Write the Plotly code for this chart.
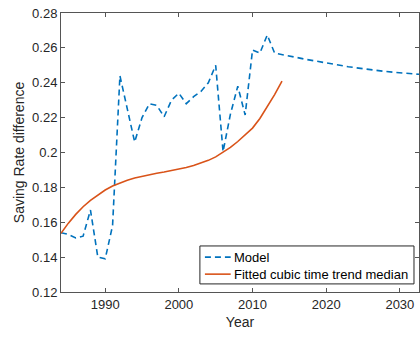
import plotly.graph_objects as go

# Model saving-rate difference: historical years plus projection
model_years = list(range(1984, 2034))
model_values = [
    0.154, 0.153, 0.151, 0.152, 0.167, 0.140, 0.139, 0.158, 0.244, 0.225,
    0.206, 0.220, 0.228, 0.227, 0.2205, 0.230, 0.234, 0.228, 0.232, 0.235,
    0.240, 0.250, 0.2005, 0.222, 0.238, 0.2215, 0.2588, 0.257, 0.2674, 0.257,
    0.2563, 0.2554, 0.2545, 0.2536, 0.2528, 0.2520, 0.2512, 0.2505, 0.2498, 0.2492,
    0.2486, 0.2480, 0.2475, 0.2470, 0.2465, 0.2461, 0.2457, 0.2453, 0.2450, 0.2447,
]

# Fitted cubic time trend (median), 1984-2014
trend_years = list(range(1984, 2015))
trend_values = [
    0.1537, 0.1595, 0.1645, 0.1689, 0.1726, 0.1758, 0.1785, 0.1808, 0.1826, 0.1841,
    0.1854, 0.1864, 0.1873, 0.1881, 0.1888, 0.1896, 0.1904, 0.1914, 0.1925, 0.1938,
    0.1955, 0.1975, 0.2000, 0.2029, 0.2063, 0.2100, 0.2140, 0.2195, 0.2260, 0.2332,
    0.2410,
]

series_names = ["Model", "Fitted cubic time trend median"]

x_ticks = [1990, 2000, 2010, 2020, 2030]
y_ticks = [0.12, 0.14, 0.16, 0.18, 0.20, 0.22, 0.24, 0.26, 0.28]
y_tick_labels = ["0.12", "0.14", "0.16", "0.18", "0.2", "0.22", "0.24", "0.26", "0.28"]

BLUE = "#0072BD"
ORANGE = "#D95319"
INK = "#262626"
FONT = "Liberation Sans, Arial, sans-serif"
MODEL_DASH = "6px,4px"

fig = go.Figure()
fig.add_trace(go.Scatter(
    x=model_years, y=model_values, mode="lines", name=series_names[0],
    line=dict(color=BLUE, width=1.6, dash=MODEL_DASH),
))
fig.add_trace(go.Scatter(
    x=trend_years, y=trend_values, mode="lines", name=series_names[1],
    line=dict(color=ORANGE, width=1.6),
))

axis_common = dict(
    showgrid=False, zeroline=False, showline=True, linecolor="#555555", linewidth=1,
    mirror="ticks", ticks="inside", ticklen=4, tickcolor="#555555", tickwidth=1,
    tickfont=dict(family=FONT, size=13, color=INK),
)

fig.update_xaxes(
    range=[1984, 2032.6], tickvals=x_ticks,
    title=dict(text="Year", font=dict(family=FONT, size=14, color=INK), standoff=6),
    **axis_common,
)
fig.update_yaxes(
    range=[0.12, 0.28], tickvals=y_ticks, ticktext=y_tick_labels,
    title=dict(text="Saving Rate difference", font=dict(family=FONT, size=14, color=INK), standoff=4),
    **axis_common,
)

# Compact boxed legend in the lower-right corner of the axes (paper coordinates)
box_x0, box_x1 = 0.388, 0.986
box_y0, box_y1 = 0.029, 0.165
sample_x0, sample_x1 = 0.402, 0.474
text_x = 0.479
entry_y = [0.125, 0.064]
entry_styles = [dict(color=BLUE, width=1.6, dash=MODEL_DASH), dict(color=ORANGE, width=1.6)]

shapes = [dict(
    type="rect", xref="paper", yref="paper", x0=box_x0, x1=box_x1, y0=box_y0, y1=box_y1,
    line=dict(color=INK, width=1), fillcolor="white", layer="above",
)]
annotations = []
for name, ey, style in zip(series_names, entry_y, entry_styles):
    shapes.append(dict(
        type="line", xref="paper", yref="paper", x0=sample_x0, x1=sample_x1, y0=ey, y1=ey,
        line=style, layer="above",
    ))
    annotations.append(dict(
        xref="paper", yref="paper", x=text_x, y=ey, text=name, showarrow=False,
        xanchor="left", yanchor="middle", font=dict(family=FONT, size=13, color="black"),
    ))

fig.update_layout(
    width=420, height=339,
    margin=dict(l=61, r=1, t=13, b=47),
    paper_bgcolor="white", plot_bgcolor="white",
    font=dict(family=FONT, color=INK),
    showlegend=False,
    shapes=shapes,
    annotations=annotations,
)

fig.write_html("out.html")
